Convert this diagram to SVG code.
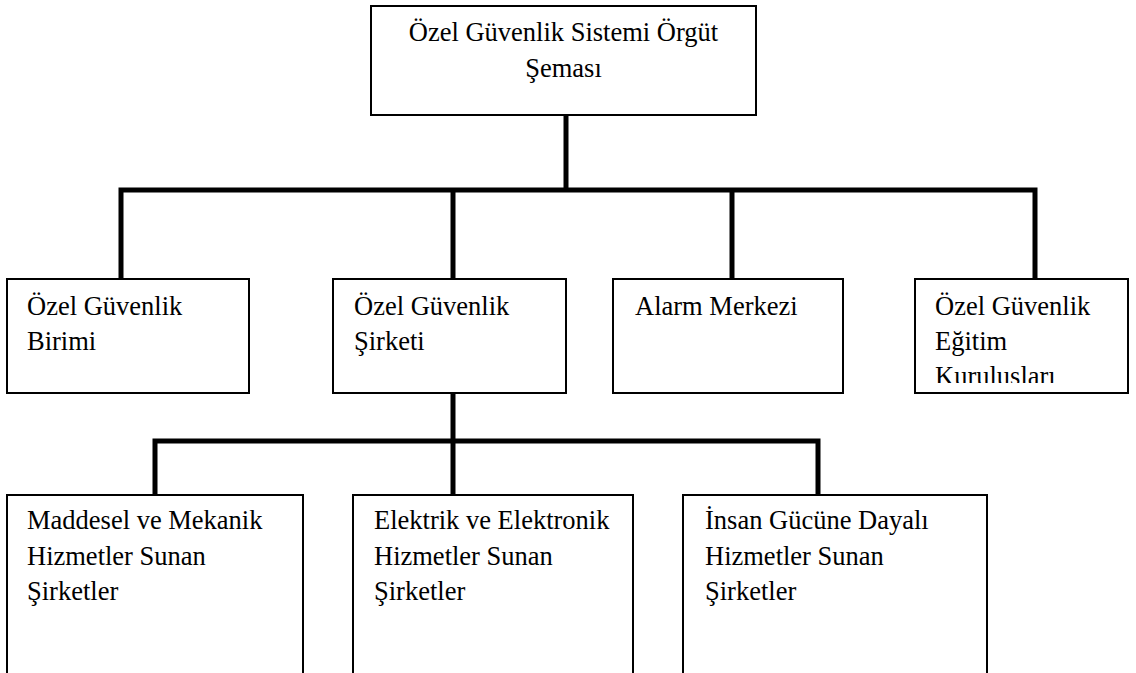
<svg xmlns="http://www.w3.org/2000/svg" width="1136" height="673" viewBox="0 0 1136 673">
<style>
.box{fill:#fff;stroke:#000;stroke-width:2}
.lbl{font-size:26.5px;fill:#000}
.con{fill:none;stroke:#000;stroke-width:5;stroke-linejoin:miter;stroke-linecap:butt}
</style>
<defs>
<clipPath id="clip4"><rect x="915" y="279" width="213" height="104"/></clipPath>
</defs>
<rect x="0" y="0" width="1136" height="673" fill="#fff"/>
<g id="connectors">
<path class="con" d="M566,115 V190"/>
<path class="con" d="M121,279 V190 H1035 V279"/>
<path class="con" d="M453,190 V279"/>
<path class="con" d="M732,190 V279"/>
<path class="con" d="M453,393 V495"/>
<path class="con" d="M155,495 V441 H818 V495"/>
</g>
<g font-family="Liberation Serif, DejaVu Serif, serif">
<g id="root">
<rect class="box" x="371" y="6" width="385" height="109"/>
<text class="lbl" x="563.5" y="41" text-anchor="middle">Özel Güvenlik Sistemi Örgüt</text>
<text class="lbl" x="563.5" y="77" text-anchor="middle">Şeması</text>
</g>
<g id="birim">
<rect class="box" x="7" y="279" width="242" height="114"/>
<text class="lbl" x="27" y="315">Özel Güvenlik</text>
<text class="lbl" x="27" y="350">Birimi</text>
</g>
<g id="sirket">
<rect class="box" x="333" y="279" width="233" height="114"/>
<text class="lbl" x="354" y="315">Özel Güvenlik</text>
<text class="lbl" x="354" y="350">Şirketi</text>
</g>
<g id="alarm">
<rect class="box" x="613" y="279" width="230" height="114"/>
<text class="lbl" x="635" y="315">Alarm Merkezi</text>
</g>
<g id="egitim">
<rect class="box" x="915" y="279" width="213" height="114"/>
<g clip-path="url(#clip4)">
<text class="lbl" x="935" y="315">Özel Güvenlik</text>
<text class="lbl" x="935" y="350">Eğitim</text>
<text class="lbl" x="935" y="385">Kuruluşları</text>
</g>
</g>
<g id="maddesel">
<rect class="box" x="7" y="495" width="296" height="220"/>
<text class="lbl" x="27" y="529">Maddesel ve Mekanik</text>
<text class="lbl" x="27" y="565">Hizmetler Sunan</text>
<text class="lbl" x="27" y="600">Şirketler</text>
</g>
<g id="elektrik">
<rect class="box" x="353" y="495" width="280" height="220"/>
<text class="lbl" x="374" y="529">Elektrik ve Elektronik</text>
<text class="lbl" x="374" y="565">Hizmetler Sunan</text>
<text class="lbl" x="374" y="600">Şirketler</text>
</g>
<g id="insan">
<rect class="box" x="683" y="495" width="304" height="220"/>
<text class="lbl" x="705" y="529">İnsan Gücüne Dayalı</text>
<text class="lbl" x="705" y="565">Hizmetler Sunan</text>
<text class="lbl" x="705" y="600">Şirketler</text>
</g>
</g>
</svg>
